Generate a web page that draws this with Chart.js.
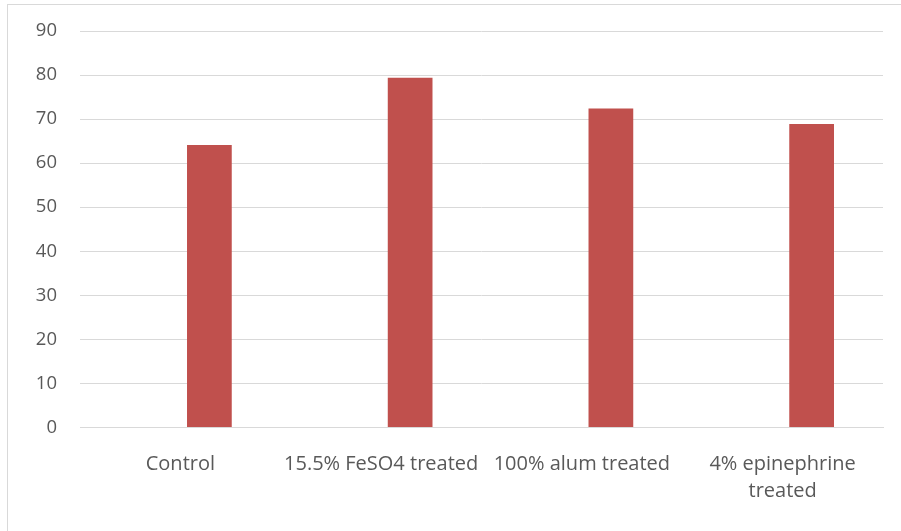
<!DOCTYPE html>
<html>
<head>
<meta charset="utf-8">
<script src="https://cdn.jsdelivr.net/npm/chart.js@4/dist/chart.umd.min.js"></script>
<style>
  html, body { margin: 0; padding: 0; background: #fff; }
  #wrap { position: relative; width: 901px; height: 531px; overflow: hidden; }
  #frame { position: absolute; left: 7px; top: 4px; width: 900px; height: 540px; border: 1px solid #d9d9d9; box-sizing: border-box; }
  #chart { position: absolute; left: 0; top: 0; }
</style>
</head>
<body>
<div id="wrap">
  <div id="frame"></div>
  <canvas id="chart" width="901" height="531"></canvas>
</div>
<script>
const categories = ["Control", "15.5% FeSO4 treated", "100% alum treated", ["4% epinephrine", "treated"]];
// the source sheet has an empty first series, so the bars sit right of each category centre
const emptySeries = [null, null, null, null];
const values = [64.1, 79.4, 72.4, 68.9];
const yTicks = [0, 10, 20, 30, 40, 50, 60, 70, 80, 90];

const ctx = document.getElementById("chart");
new Chart(ctx, {
  type: "bar",
  data: {
    labels: categories,
    datasets: [
      {
        label: "Series0",
        data: emptySeries,
        backgroundColor: "#4f81bd",
        barPercentage: 0.771,
        categoryPercentage: 0.578,
      },
      {
        label: "Series1",
        data: values,
        backgroundColor: "#c0504d",
        barPercentage: 0.771,
        categoryPercentage: 0.578,
      },
    ],
  },
  options: {
    responsive: false,
    animation: false,
    layout: {
      padding: { top: 31, right: 18, left: 0, bottom: 0 },
    },
    plugins: {
      legend: { display: false },
      tooltip: { enabled: false },
    },
    scales: {
      x: {
        grid: { display: false, drawTicks: false },
        border: { color: "#d9d9d9", width: 1 },
        ticks: {
          color: "#595959",
          font: { family: "Open Sans", size: 20, lineHeight: 1.315 },
          padding: 24,
          maxRotation: 0,
          autoSkip: false,
        },
        afterFit: function (scale) {
          scale.height = 103.5;
          scale.paddingTop = 0;
          scale.paddingBottom = 0;
        },
      },
      y: {
        min: 0,
        max: 90,
        afterBuildTicks: function (scale) {
          scale.ticks = yTicks.map(function (v) { return { value: v }; });
        },
        grid: { color: "#d9d9d9", drawTicks: false },
        border: { display: false },
        ticks: {
          color: "#595959",
          font: { family: "Open Sans", size: 18.5 },
          padding: 23,
        },
        afterFit: function (scale) {
          scale.width = 80;
          scale.paddingTop = 0;
          scale.paddingBottom = 0;
        },
      },
    },
  },
});
</script>
</body>
</html>
